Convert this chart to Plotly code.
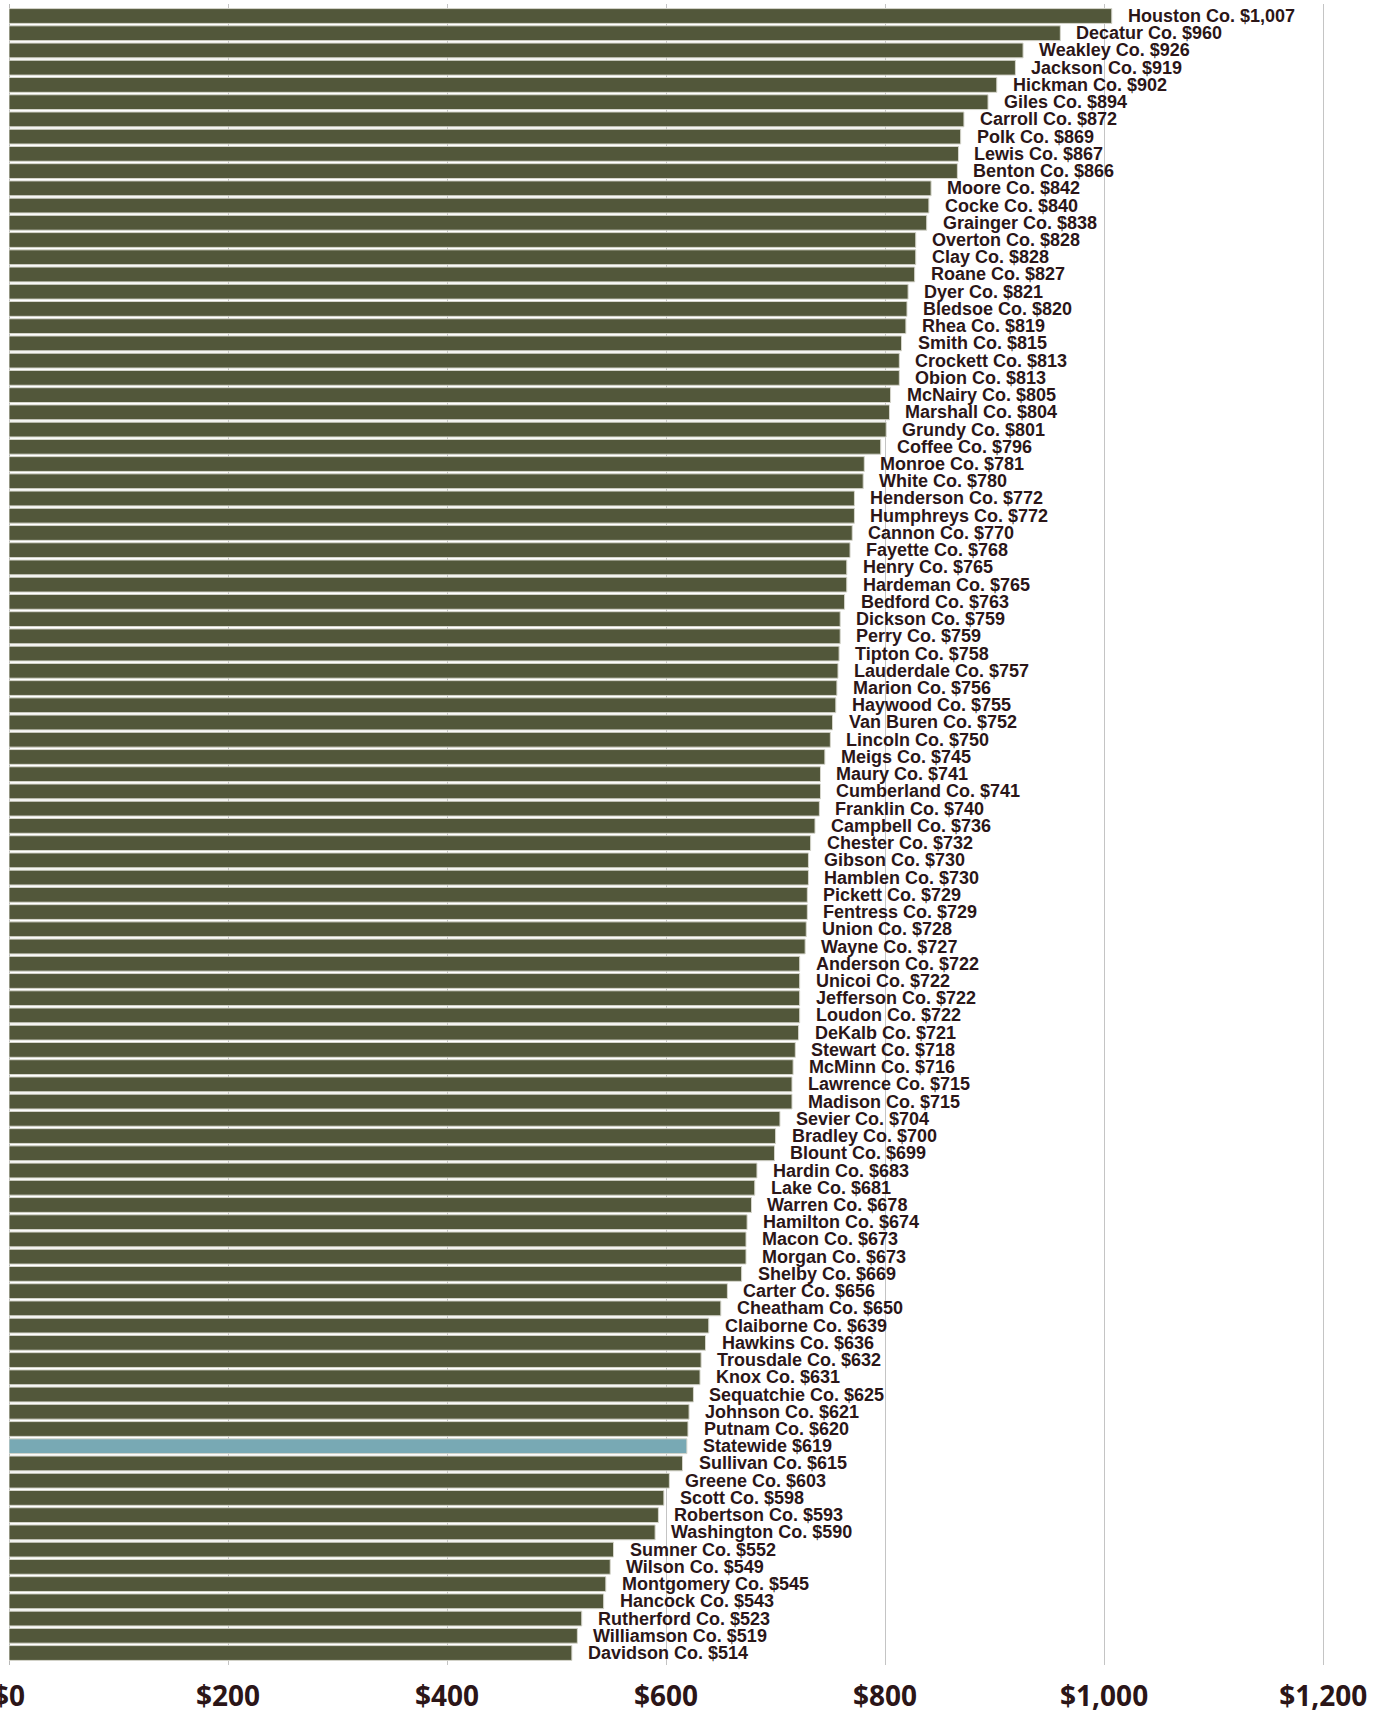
import plotly.graph_objects as go

counties = [
    "Houston Co.", "Decatur Co.", "Weakley Co.", "Jackson Co.", "Hickman Co.", "Giles Co.",
    "Carroll Co.", "Polk Co.", "Lewis Co.", "Benton Co.", "Moore Co.", "Cocke Co.",
    "Grainger Co.", "Overton Co.", "Clay Co.", "Roane Co.", "Dyer Co.", "Bledsoe Co.",
    "Rhea Co.", "Smith Co.", "Crockett Co.", "Obion Co.", "McNairy Co.", "Marshall Co.",
    "Grundy Co.", "Coffee Co.", "Monroe Co.", "White Co.", "Henderson Co.", "Humphreys Co.",
    "Cannon Co.", "Fayette Co.", "Henry Co.", "Hardeman Co.", "Bedford Co.", "Dickson Co.",
    "Perry Co.", "Tipton Co.", "Lauderdale Co.", "Marion Co.", "Haywood Co.", "Van Buren Co.",
    "Lincoln Co.", "Meigs Co.", "Maury Co.", "Cumberland Co.", "Franklin Co.", "Campbell Co.",
    "Chester Co.", "Gibson Co.", "Hamblen Co.", "Pickett Co.", "Fentress Co.", "Union Co.",
    "Wayne Co.", "Anderson Co.", "Unicoi Co.", "Jefferson Co.", "Loudon Co.", "DeKalb Co.",
    "Stewart Co.", "McMinn Co.", "Lawrence Co.", "Madison Co.", "Sevier Co.", "Bradley Co.",
    "Blount Co.", "Hardin Co.", "Lake Co.", "Warren Co.", "Hamilton Co.", "Macon Co.",
    "Morgan Co.", "Shelby Co.", "Carter Co.", "Cheatham Co.", "Claiborne Co.", "Hawkins Co.",
    "Trousdale Co.", "Knox Co.", "Sequatchie Co.", "Johnson Co.", "Putnam Co.", "Statewide",
    "Sullivan Co.", "Greene Co.", "Scott Co.", "Robertson Co.", "Washington Co.", "Sumner Co.",
    "Wilson Co.", "Montgomery Co.", "Hancock Co.", "Rutherford Co.", "Williamson Co.", "Davidson Co.",
]

values = [
    1007, 960, 926, 919, 902, 894,
    872, 869, 867, 866, 842, 840,
    838, 828, 828, 827, 821, 820,
    819, 815, 813, 813, 805, 804,
    801, 796, 781, 780, 772, 772,
    770, 768, 765, 765, 763, 759,
    759, 758, 757, 756, 755, 752,
    750, 745, 741, 741, 740, 736,
    732, 730, 730, 729, 729, 728,
    727, 722, 722, 722, 722, 721,
    718, 716, 715, 715, 704, 700,
    699, 683, 681, 678, 674, 673,
    673, 669, 656, 650, 639, 636,
    632, 631, 625, 621, 620, 619,
    615, 603, 598, 593, 590, 552,
    549, 545, 543, 523, 519, 514,
]

tick_values = [0, 200, 400, 600, 800, 1000, 1200]
tick_labels = ["$0", "$200", "$400", "$600", "$800", "$1,000", "$1,200"]

COUNTY_COLOR = "#52573a"
STATE_COLOR = "#78a9b4"
TEXT_COLOR = "#2b1618"

colors = [STATE_COLOR if c == "Statewide" else COUNTY_COLOR for c in counties]

fig = go.Figure(
    go.Bar(
        x=values,
        y=counties,
        orientation="h",
        marker=dict(color=colors, line=dict(color="#d6d6cc", width=1)),
        hoverinfo="skip",
    )
)

for c, v in zip(counties, values):
    fig.add_annotation(
        x=v, y=c, xref="x", yref="y",
        text=f"{c} ${v:,}",
        showarrow=False, xanchor="left", yanchor="middle",
        xshift=14,
        font=dict(family="Liberation Sans, Arial", size=18, color=TEXT_COLOR, weight="bold"),
    )

fig.update_layout(
    width=1389, height=1715,
    margin=dict(l=9, r=33, t=4, b=50, autoexpand=False),
    plot_bgcolor="white", paper_bgcolor="white",
    bargap=0.14,
    showlegend=False,
)

fig.update_xaxes(
    range=[0, 1230],
    tickvals=tick_values, ticktext=tick_labels,
    showgrid=True, gridcolor="#c4c4c4", gridwidth=1,
    zeroline=True, zerolinecolor="#b8b8b8", zerolinewidth=1,
    showline=False, ticks="",
    ticklabelstandoff=12,
    ticklabeloverflow="allow",
    tickfont=dict(family="Open Sans", size=28, color=TEXT_COLOR, weight="bold"),
    automargin=False, fixedrange=True,
)
fig.update_yaxes(
    autorange="reversed", showticklabels=False, showgrid=False,
    ticks="", automargin=False, fixedrange=True,
)

fig.write_html(
    "out.html",
    config={"displayModeBar": False},
    post_script="document.body.style.margin='0';document.body.style.overflow='hidden';",
)
